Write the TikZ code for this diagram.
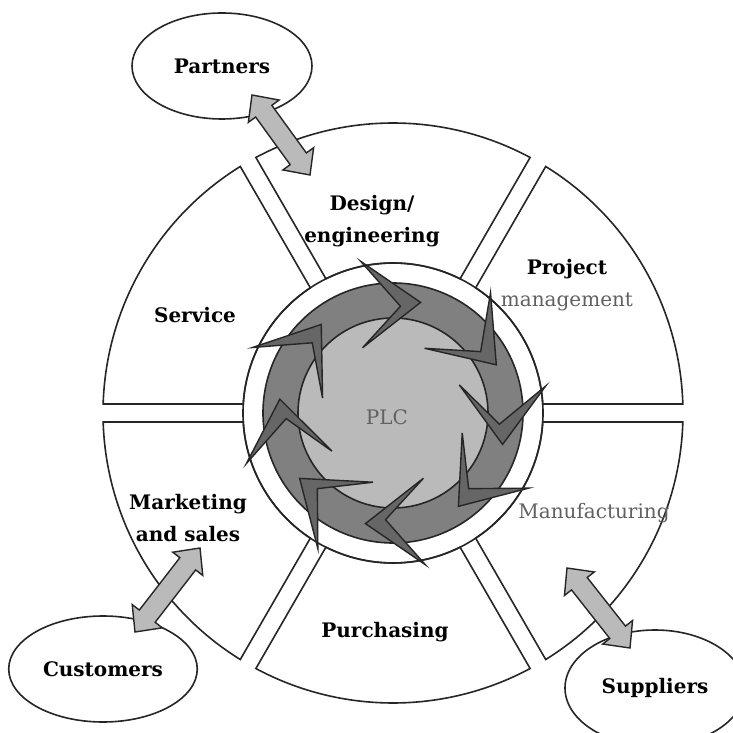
\documentclass[tikz,border=0pt]{standalone}
\usepackage{fontspec}
\setmainfont{DejaVu Serif}
\usetikzlibrary{shapes.geometric,calc}

% fat double-headed arrow between two named points
\newcommand\bigarrow[2]{%
  \draw[blockarrow] (#1)
    -- ($(#1)!10pt!(#2)!9.5pt!90:(#2)$) -- ($(#1)!10pt!(#2)!5pt!90:(#2)$)
    -- ($(#2)!10pt!(#1)!5pt!-90:(#1)$) -- ($(#2)!10pt!(#1)!9.5pt!-90:(#1)$)
    -- (#2)
    -- ($(#2)!10pt!(#1)!9.5pt!90:(#1)$) -- ($(#2)!10pt!(#1)!5pt!90:(#1)$)
    -- ($(#1)!10pt!(#2)!5pt!-90:(#2)$) -- ($(#1)!10pt!(#2)!9.5pt!-90:(#2)$)
    -- cycle;}

\begin{document}
\begin{tikzpicture}
  [x=0.5pt,y=0.5pt,
   sector/.style={draw=black!85,line width=0.8pt,fill=white},
   ring/.style={draw=black!85,line width=0.8pt,fill=black!50},
   core/.style={draw=black!85,line width=0.8pt,fill=black!27},
   chevron/.style={draw=black!85,line width=0.7pt,fill=black!60,line join=miter},
   lbl/.style={font=\fontsize{10}{16}\selectfont\bfseries,align=center},
   grey/.style={font=\fontsize{10}{16}\selectfont,text=black!62,align=center},
   party/.style={ellipse,draw=black!85,line width=0.8pt,fill=white,minimum width=90pt,minimum height=53pt,font=\fontsize{10}{16}\selectfont\bfseries},
   blockarrow/.style={draw=black!85,line width=0.7pt,fill=black!27,line join=miter}]

  \useasboundingbox (-393,-320) rectangle (340,413);
  \fill[white] (-393,-320) rectangle (340,413);
  \clip (-393,-320) rectangle (340,413);

  % six segments round the hub
  \foreach \a in {0,60,...,300}
    \draw[sector] (\a+3.44:150) arc[start angle=\a+3.44,end angle=\a+56.56,radius=150]
      -- (\a+58.22:290) arc[start angle=\a+58.22,end angle=\a+1.78,radius=290] -- cycle;
  \draw[draw=black!85,line width=0.8pt] (0,0) circle[radius=150];

  \filldraw[ring] (0,0) circle[radius=130];
  \filldraw[core] (0,0) circle[radius=95];

  \foreach \t in {76,25,-16,-55,-104,-145,-187,-231}
    \filldraw[chevron] (\t:114) -- (\t+26:155) -- (\t+10:107) -- (\t+39:72) -- cycle;

  \node[grey] (plc) at (-6,-4) {PLC};
  \node[lbl] (design) at (-21,192) {Design/\\engineering};
  \node[grey] (pm) at (174,128) {\textbf{\textcolor{black}{Project}}\\management};
  \node[lbl] (service) at (-198,98) {Service};
  \node[lbl] (marketing) at (-205,-105) {Marketing\\and sales};
  \node[grey] (manufacturing) at (201,-100) {Manufacturing};
  \node[lbl] (purchasing) at (-8,-219) {Purchasing};

  \node[party] (partners) at (-171,347) {Partners};
  \node[party] (customers) at (-290,-256) {Customers};
  \node[party,minimum height=58pt] (suppliers) at (262,-275) {Suppliers};

  \coordinate (partners-end) at (-141,318);
  \coordinate (design-end) at (-83,238);
  \coordinate (customers-end) at (-258,-219);
  \coordinate (marketing-end) at (-193,-135);
  \coordinate (manufacturing-end) at (174,-155);
  \coordinate (suppliers-end) at (237,-235);

  \bigarrow{partners-end}{design-end}
  \bigarrow{customers-end}{marketing-end}
  \bigarrow{manufacturing-end}{suppliers-end}

\end{tikzpicture}
\end{document}
